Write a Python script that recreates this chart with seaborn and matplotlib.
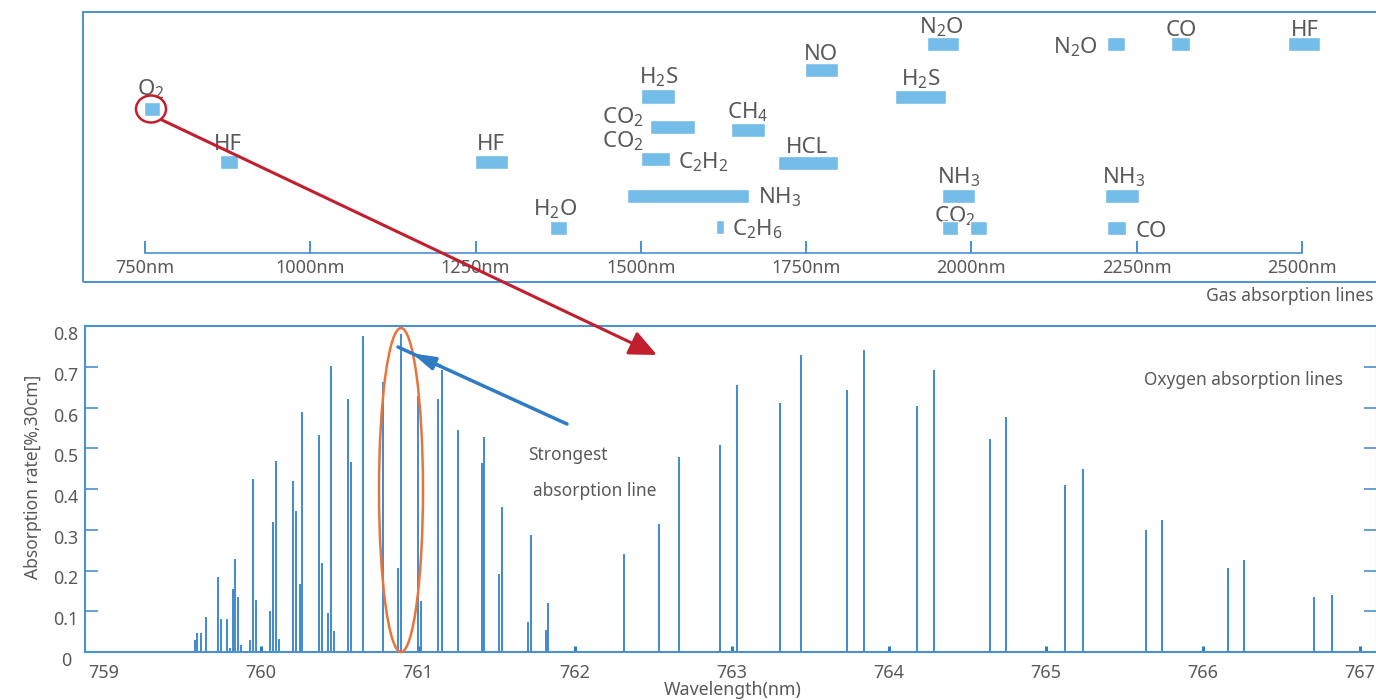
import re

import numpy as np
import matplotlib.pyplot as plt
import seaborn as sns
from matplotlib.patches import Ellipse, Rectangle, FancyArrowPatch
from matplotlib.lines import Line2D

# gas absorption bands (nm) for the upper panel
band_gas = ["O2", "HF", "HF", "H2O", "H2S", "CO2", "CH4", "C2H2", "NH3", "C2H6", "NO",
            "HCL", "N2O", "H2S", "NH3", "CO2", "CO2", "N2O", "CO", "HF", "NH3", "CO"]
band_start = [749, 863, 1249, 1363, 1500, 1514, 1636, 1500, 1479, 1614, 1748,
              1708, 1933, 1885, 1955, 1955, 1998, 2205, 2302, 2479, 2202, 2205]
band_end = [773, 890, 1299, 1388, 1552, 1582, 1688, 1544, 1664, 1626, 1798,
            1798, 1981, 1962, 2005, 1980, 2024, 2233, 2331, 2528, 2253, 2234]
band_row = [14.45, 9.1, 9.1, 2.55, 15.65, 12.65, 12.3, 9.4, 5.75, 2.6, 18.3,
            9.0, 20.9, 15.6, 5.7, 2.55, 2.55, 20.9, 20.9, 20.9, 5.75, 2.55]

top_ticks = [750, 1000, 1250, 1500, 1750, 2000, 2250, 2500]
top_ticklabels = [f"{t}nm" for t in top_ticks]

# oxygen A-band lines for the lower panel
o2_wavelength = [759.578, 759.592, 759.616, 759.650, 759.726, 759.743, 759.782, 759.801,
                 759.820, 759.836, 759.853, 759.873, 759.930, 759.947, 759.966,
                 760.057, 760.078, 760.096, 760.113, 760.204, 760.221, 760.247, 760.261,
                 760.369, 760.387, 760.427, 760.446, 760.467, 760.556, 760.575, 760.650,
                 760.775, 760.871, 760.890, 760.998, 761.019, 761.125, 761.150, 761.257,
                 761.406, 761.423, 761.516, 761.533, 761.703, 761.720, 761.813, 761.830,
                 762.312, 762.535, 762.661, 762.922, 763.032, 763.308, 763.438, 763.732,
                 763.843, 764.176, 764.289, 764.642, 764.747, 765.119, 765.234, 765.637,
                 765.741, 766.157, 766.263, 766.707, 766.822]
o2_absorption = [0.029, 0.047, 0.046, 0.087, 0.185, 0.080, 0.080, 0.009,
                 0.155, 0.228, 0.136, 0.017, 0.029, 0.424, 0.127,
                 0.101, 0.319, 0.469, 0.031, 0.420, 0.346, 0.167, 0.589,
                 0.532, 0.219, 0.095, 0.703, 0.052, 0.621, 0.466, 0.776,
                 0.662, 0.206, 0.780, 0.627, 0.125, 0.621, 0.693, 0.546,
                 0.464, 0.527, 0.191, 0.356, 0.073, 0.288, 0.054, 0.120,
                 0.240, 0.315, 0.479, 0.509, 0.656, 0.612, 0.730, 0.642,
                 0.741, 0.604, 0.691, 0.523, 0.577, 0.409, 0.448, 0.299,
                 0.324, 0.205, 0.226, 0.134, 0.141]

wl_ticks = list(range(759, 768))
abs_ticks = [0, 0.1, 0.2, 0.3, 0.4, 0.5, 0.6, 0.7, 0.8]
abs_ticklabels = ["0", "0.1", "0.2", "0.3", "0.4", "0.5", "0.6", "0.7", "0.8"]

# label layout for the gas names: (text, x in nm, baseline row, alignment)
gas_labels = [
    ("O2", 758.3, 15.8, "center"), ("HF", 875.5, 10.3, "center"),
    ("HF", 1273, 10.3, "center"), ("H2O", 1371, 3.8, "center"),
    ("H2S", 1527.5, 17.0, "center"), ("CO2", 1504.8, 13.0, "right"),
    ("CO2", 1504.8, 10.6, "right"), ("CH4", 1662, 13.5, "center"),
    ("C2H2", 1556, 8.5, "left"), ("NH3", 1677.7, 4.97, "left"),
    ("C2H6", 1638.4, 1.8, "left"), ("NO", 1772.6, 19.3, "center"),
    ("HCL", 1751.4, 10.0, "center"), ("N2O", 1954, 22.0, "center"),
    ("H2S", 1923.8, 16.8, "center"), ("NH3", 1981, 7.0, "center"),
    ("CO2", 1975.3, 3.1, "center"), ("N2O", 2191.6, 20.0, "right"),
    ("CO", 2317, 21.7, "center"), ("HF", 2505, 21.7, "center"),
    ("NH3", 2231, 7.0, "center"), ("CO", 2249, 1.6, "left"),
]

sns.set_theme(style="white")
plt.rcParams["font.family"] = ["Noto Sans", "DejaVu Sans"]
plt.rcParams["mathtext.fontset"] = "custom"
plt.rcParams["mathtext.rm"] = "Noto Sans"

BLUE = "#4a90d2"
DARKBLUE = "#2f7bc4"
BAR = "#73bde8"
LINE = "#4289cd"
GREY = "#595959"
RED = "#c21f2e"
ORANGE = "#e8743b"

W, H = 1376, 700
fig = plt.figure(figsize=(W / 100, H / 100), dpi=100)


def fx(px):
    return px / W


def fy(py):
    return 1 - py / H


def chem(s):
    return re.sub(r"(\d)", lambda m: r"$_\mathregular{" + m.group(1) + "}$", s)


# ---- upper panel ----
fig.add_artist(Rectangle((fx(83), fy(282)), 1.2, (282 - 12) / H, transform=fig.transFigure,
                         fill=False, edgecolor=BLUE, lw=1.4))

ax1 = fig.add_axes([fx(83), fy(253), 1 - fx(83), (253 - 12) / H])
ax1.patch.set_alpha(0)
ax1.barh(band_row, np.array(band_end) - np.array(band_start), left=band_start,
         height=1.4, color=BAR, zorder=3)
for g, x, y, ha in gas_labels:
    ax1.text(x, y, chem(g), ha=ha, va="baseline", fontsize=16, color=GREY, zorder=2)
ax1.set_xlim(656.2, 2612.0)
ax1.set_ylim(0, 24.1)
for s in ["left", "right", "top"]:
    ax1.spines[s].set_visible(False)
ax1.spines["bottom"].set_bounds(750, 2500)
ax1.spines["bottom"].set_color(BLUE)
ax1.spines["bottom"].set_linewidth(1.2)
ax1.set_xticks(top_ticks, top_ticklabels)
ax1.set_yticks([])
ax1.tick_params(axis="x", direction="in", bottom=True, length=8.6, width=1.4, color=BLUE,
                pad=4.5, labelsize=13, labelcolor=GREY)
fig.text(fx(1374), fy(296), "Gas absorption lines", ha="right", va="center",
         fontsize=12.6, color=GREY)

# ---- lower panel ----
ax2 = fig.add_axes([fx(85), fy(652), (1377 - 85) / W, (652 - 326) / H])
ax2.vlines(o2_wavelength, 0, o2_absorption, color=LINE, lw=1.4)
ax2.set_xlim(758.879, 767.108)
ax2.set_ylim(0, 0.8)
for s in ax2.spines.values():
    s.set_color(BLUE)
    s.set_linewidth(1.5)
ax2.set_yticks(abs_ticks, abs_ticklabels)
ax2.tick_params(axis="y", direction="in", left=True, right=True, length=9.4, width=1.2,
                color=BLUE, pad=13.7, labelsize=12.8, labelcolor=GREY)
plt.setp(ax2.get_yticklabels(), ha="center", va="top")
ax2.set_xticks(wl_ticks, [str(t) for t in wl_ticks])
ax2.tick_params(axis="x", direction="in", bottom=True, length=4.3, width=2.2,
                color=DARKBLUE, pad=8.5, labelsize=13, labelcolor=GREY)
ax2.xaxis.get_major_ticks()[0].tick1line.set_visible(False)
ax2.set_xlabel("Wavelength(nm)", fontsize=12.8, color=GREY)
ax2.xaxis.set_label_coords(0.5015, -0.089)
ax2.set_ylabel("Absorption rate[%,30cm]", fontsize=12.6, color=GREY)
ax2.yaxis.set_label_coords(-0.0333, 0.537)

fig.text(fx(568), fy(455), "Strongest", ha="center", va="center", fontsize=12.5, color=GREY)
fig.text(fx(594.5), fy(491), "absorption line", ha="center", va="center", fontsize=12.5,
         color=GREY)
fig.text(fx(1244), fy(380), "Oxygen absorption lines", ha="center", va="center",
         fontsize=12.5, color=GREY)

# ---- annotations ----
fig.add_artist(Ellipse((fx(151), fy(109)), 30 / W, 27 / H, transform=fig.transFigure,
                       fill=False, edgecolor=RED, lw=1.8))
fig.add_artist(FancyArrowPatch((fx(162), fy(120)), (fx(657), fy(355)),
                               transform=fig.transFigure, color=RED, lw=2.2,
                               arrowstyle="-|>,head_length=0.4,head_width=0.18",
                               mutation_scale=42, shrinkA=0, shrinkB=0))
fig.add_artist(Ellipse((fx(401), fy(490)), 44 / W, 324 / H, transform=fig.transFigure,
                       fill=False, edgecolor=ORANGE, lw=1.8))
fig.add_artist(Line2D([fx(567), fx(398)], [fy(424), fy(347)], transform=fig.transFigure,
                      color=DARKBLUE, lw=2.5))
fig.add_artist(FancyArrowPatch((fx(440), fy(366)), (fx(412), fy(353.3)),
                               transform=fig.transFigure, color=DARKBLUE, lw=2.5,
                               arrowstyle="-|>,head_length=0.45,head_width=0.13",
                               mutation_scale=30, shrinkA=0, shrinkB=0))

fig.savefig("out.png", dpi=100)
